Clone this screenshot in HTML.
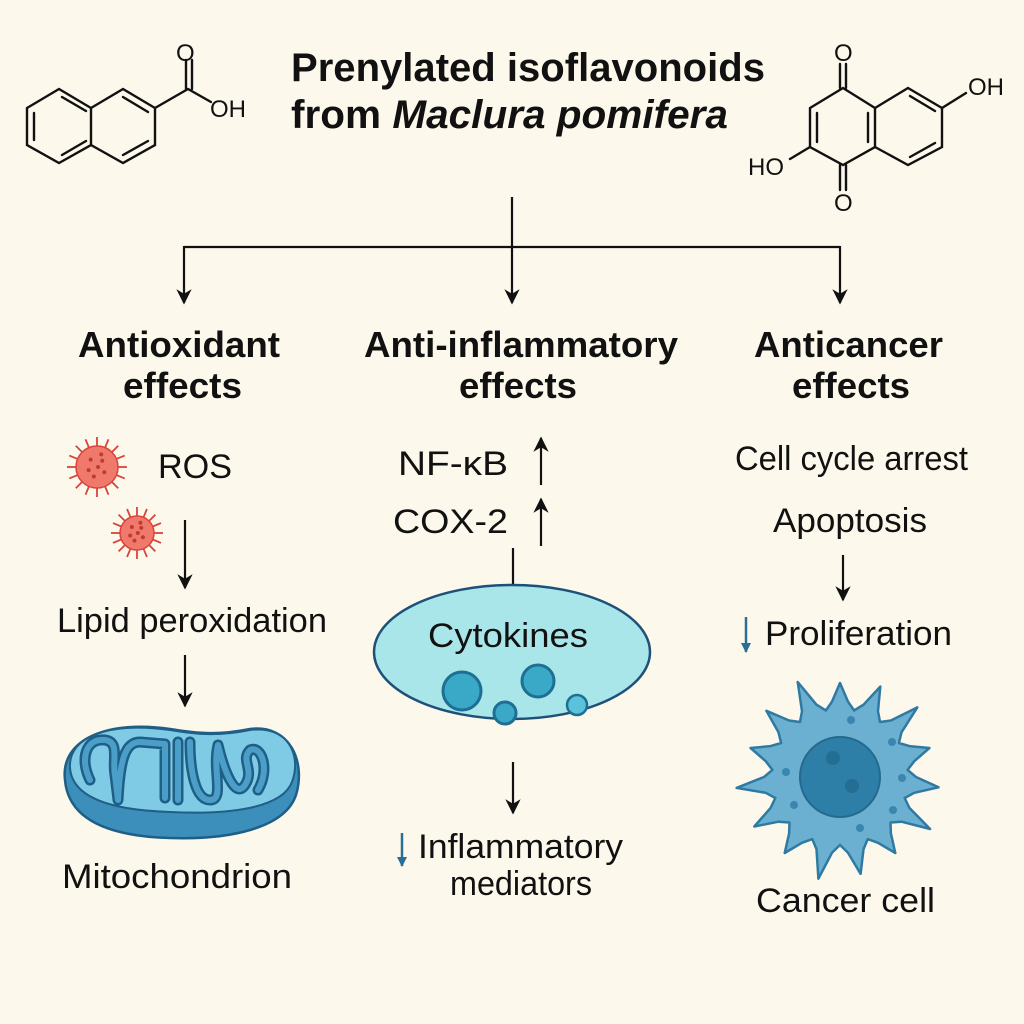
<!DOCTYPE html>
<html><head><meta charset="utf-8"><style>
html,body{margin:0;padding:0;background:#fdf8ec;}
svg{display:block}
text{font-family:"Liberation Sans",Arial,sans-serif;fill:#111}
.h{font-weight:bold;font-size:36px}
.t{font-size:34px}
.ln{stroke:#111;stroke-width:2.2;fill:none}
.b{stroke:#111;stroke-width:2.4;fill:none;stroke-linecap:round}
</style></head><body>
<svg id="s" width="1024" height="1024" viewBox="0 0 1024 1024" xmlns="http://www.w3.org/2000/svg">
<defs>
<marker id="a" viewBox="0 0 10 10" refX="9" refY="5" markerWidth="7" markerHeight="7" orient="auto-start-reverse"><path d="M0,0 L10,5 L0,10 L3,5 Z" fill="#111"/></marker>
<marker id="ab" viewBox="0 0 10 10" refX="9" refY="5" markerWidth="4" markerHeight="4" orient="auto"><path d="M0,0 L10,5 L0,10 Z" fill="#2a6e96"/></marker>
</defs>
<rect width="1024" height="1024" fill="#fdf8ec"/>

<g class="b">
<path d="M59,89 L27,108 L27,145 L59,163 L91,145 L91,108 Z"/>
<path d="M91,108 L123,89 L155,108 L155,145 L123,163 L91,145"/>
<path d="M34,113 L34,140 M62,97 L86,111 M62,155 L86,141 M123,97 L148,112 M123,155 L148,141"/>
<path d="M155,108 L188,89 L211,102 M186,89 L186,60 M192,89 L192,60"/>
</g>
<text x="176" y="61" font-size="24">O</text>
<text x="210" y="117" font-size="24">OH</text>

<g class="b">
<path d="M843,88 L810,108 L810,147 L843,165 L875,147 L875,108 Z"/>
<path d="M875,108 L908,88 L942,108 L942,147 L908,165 L875,147"/>
<path d="M817,113 L817,142 M868,113 L868,142 M910,96 L935,111 M910,157 L935,143"/>
<path d="M942,108 L966,93 M810,147 L790,159 M840,88 L840,64 M846,88 L846,64 M840,165 L840,190 M846,165 L846,190"/>
</g>
<text x="834" y="61" font-size="24">O</text>
<text x="834" y="211" font-size="24">O</text>
<text x="968" y="95" font-size="24">OH</text>
<text x="748" y="175" font-size="24">HO</text>

<text x="291" y="81" font-size="40" font-weight="bold" textLength="474" lengthAdjust="spacingAndGlyphs">Prenylated isoflavonoids</text>
<text x="291" y="128" font-size="40" font-weight="bold" textLength="437" lengthAdjust="spacingAndGlyphs">from <tspan font-style="italic">Maclura pomifera</tspan></text>

<path class="ln" d="M512,197 L512,303" marker-end="url(#a)"/>
<path class="ln" d="M184,247 L840,247"/>
<path class="ln" d="M184,246 L184,303" marker-end="url(#a)"/>
<path class="ln" d="M840,246 L840,303" marker-end="url(#a)"/>

<text class="h" x="78" y="357" textLength="202" lengthAdjust="spacingAndGlyphs">Antioxidant</text>
<text class="h" x="123" y="398" textLength="119" lengthAdjust="spacingAndGlyphs">effects</text>
<text class="h" x="364" y="357" textLength="314" lengthAdjust="spacingAndGlyphs">Anti-inflammatory</text>
<text class="h" x="459" y="398" textLength="118" lengthAdjust="spacingAndGlyphs">effects</text>
<text class="h" x="754" y="357" textLength="189" lengthAdjust="spacingAndGlyphs">Anticancer</text>
<text class="h" x="792" y="398" textLength="118" lengthAdjust="spacingAndGlyphs">effects</text>

<g id="ros"></g>
<text class="t" x="158" y="478" textLength="74" lengthAdjust="spacingAndGlyphs">ROS</text>
<path class="ln" d="M185,520 L185,588" marker-end="url(#a)"/>
<text class="t" x="57" y="632" textLength="270" lengthAdjust="spacingAndGlyphs">Lipid peroxidation</text>
<path class="ln" d="M185,655 L185,706" marker-end="url(#a)"/>
<g>
<path d="M65,780 C60,738 110,720 170,729 C200,734 220,735 250,729 C290,724 306,762 296,795 C285,828 230,840 170,838 C100,836 68,815 65,780 Z" fill="#3d8fbb" stroke="#1f5f86" stroke-width="2.5"/>
<path d="M70,768 C68,735 112,722 170,730 C200,735 220,736 250,730 C288,725 302,755 292,782 C282,808 230,815 170,812 C105,810 72,795 70,768 Z" fill="#7fcbe6" stroke="#1f5f86" stroke-width="2"/>
<g fill="none" stroke-linecap="round" stroke-linejoin="round">
<path d="M90,780 C80,760 85,738 105,740 C120,742 112,760 115,775 L118,800 C120,760 125,742 140,742 L165,744 L165,798 M178,742 L178,800 M190,742 C190,770 195,800 210,800 C225,800 212,770 218,745 C224,770 235,800 245,785 C255,770 240,760 250,750 C262,745 270,770 258,790" stroke="#1f5f86" stroke-width="11"/>
<path d="M90,780 C80,760 85,738 105,740 C120,742 112,760 115,775 L118,800 C120,760 125,742 140,742 L165,744 L165,798 M178,742 L178,800 M190,742 C190,770 195,800 210,800 C225,800 212,770 218,745 C224,770 235,800 245,785 C255,770 240,760 250,750 C262,745 270,770 258,790" stroke="#4b9ec8" stroke-width="6"/>
</g>
</g>
<text class="t" x="62" y="888" textLength="230" lengthAdjust="spacingAndGlyphs">Mitochondrion</text>

<text class="t" x="398" y="475" textLength="110" lengthAdjust="spacingAndGlyphs">NF-κB</text>
<text class="t" x="393" y="533" textLength="115" lengthAdjust="spacingAndGlyphs">COX-2</text>
<path class="ln" d="M541,485 L541,438" marker-end="url(#a)"/>
<path class="ln" d="M541,546 L541,499" marker-end="url(#a)"/>
<path class="ln" d="M513,548 L513,586"/>
<ellipse cx="512" cy="652" rx="138" ry="67" fill="#a8e6ea" stroke="#1f5078" stroke-width="2.5"/>
<text class="t" x="428" y="647" textLength="160" lengthAdjust="spacingAndGlyphs">Cytokines</text>
<circle cx="462" cy="691" r="19" fill="#3aa9c8" stroke="#1f6f92" stroke-width="3"/>
<circle cx="538" cy="681" r="16" fill="#3aa9c8" stroke="#1f6f92" stroke-width="3"/>
<circle cx="505" cy="713" r="11" fill="#3aa9c8" stroke="#1f6f92" stroke-width="3"/>
<circle cx="577" cy="705" r="10" fill="#5ac3db" stroke="#1f6f92" stroke-width="2.5"/>
<path class="ln" d="M513,762 L513,813" marker-end="url(#a)"/>
<path d="M402,833 L402,866" stroke="#2a6e96" stroke-width="2.5" marker-end="url(#ab)"/>
<text class="t" x="418" y="858" textLength="205" lengthAdjust="spacingAndGlyphs">Inflammatory</text>
<text class="t" x="450" y="895" textLength="142" lengthAdjust="spacingAndGlyphs">mediators</text>

<text class="t" x="735" y="470" textLength="233" lengthAdjust="spacingAndGlyphs">Cell cycle arrest</text>
<text class="t" x="773" y="532" textLength="154" lengthAdjust="spacingAndGlyphs">Apoptosis</text>
<path class="ln" d="M843,555 L843,600" marker-end="url(#a)"/>
<path d="M746,617 L746,652" stroke="#2a6e96" stroke-width="2.5" marker-end="url(#ab)"/>
<text class="t" x="765" y="645" textLength="187" lengthAdjust="spacingAndGlyphs">Proliferation</text>
<path id="cell" d="" fill="#6bb0d0" stroke="#2f7aa3" stroke-width="2.5"/>
<circle cx="840" cy="777" r="40" fill="#2d7fa8" stroke="#25698f" stroke-width="2"/>
<circle cx="833" cy="758" r="7" fill="#246d93"/>
<circle cx="852" cy="786" r="7" fill="#246d93"/>
<g fill="#3a86ae">
<circle cx="851" cy="720" r="4"/><circle cx="892" cy="742" r="4"/><circle cx="902" cy="778" r="4"/><circle cx="893" cy="810" r="4"/><circle cx="860" cy="828" r="4"/><circle cx="794" cy="805" r="4"/><circle cx="786" cy="772" r="4"/>
</g>
<text class="t" x="756" y="912" textLength="179" lengthAdjust="spacingAndGlyphs">Cancer cell</text>
</svg>
<script>
(function(){
var NS="http://www.w3.org/2000/svg";
var cx=840,cy=777,n=15;
var pts=[];
for(var i=0;i<n*4;i++){
 var ang=i/(n*4)*Math.PI*2 - Math.PI/2;
 var k=i%4, r;
 if(k==0) r=94+((i*7)%3)*5; else if(k==2) r=68; else r=76;
 pts.push([cx+r*Math.cos(ang),cy+r*Math.sin(ang)]);
}
var d="M"+pts[0].join(",");
for(var j=1;j<pts.length;j++){d+=" L"+pts[j][0].toFixed(1)+","+pts[j][1].toFixed(1);}
d+="Z";
var c=document.getElementById("cell");c.setAttribute("d",d);c.setAttribute("stroke-linejoin","round");
var g=document.getElementById("ros");
function ros(x,y,r){
 for(var i=0;i<16;i++){var a=i/16*Math.PI*2;var l=document.createElementNS(NS,"line");
 l.setAttribute("x1",x+r*Math.cos(a));l.setAttribute("y1",y+r*Math.sin(a));
 l.setAttribute("x2",x+(r+9)*Math.cos(a));l.setAttribute("y2",y+(r+9)*Math.sin(a));
 l.setAttribute("stroke","#d8443a");l.setAttribute("stroke-width","1.8");g.appendChild(l);}
 var ci=document.createElementNS(NS,"circle");ci.setAttribute("cx",x);ci.setAttribute("cy",y);ci.setAttribute("r",r);
 ci.setAttribute("fill","#ef7a6c");ci.setAttribute("stroke","#d8443a");ci.setAttribute("stroke-width","1.5");g.appendChild(ci);
 var dots=[[-6,-7],[5,-6],[-8,3],[1,0],[7,5],[-3,9],[4,-12]];
 dots.forEach(function(p){var s=document.createElementNS(NS,"circle");s.setAttribute("cx",x+p[0]*r/20);s.setAttribute("cy",y+p[1]*r/20);s.setAttribute("r",2);s.setAttribute("fill","#c23a32");g.appendChild(s);});
}
ros(97,467,21);ros(137,533,17);
})();
</script>
</body></html>
